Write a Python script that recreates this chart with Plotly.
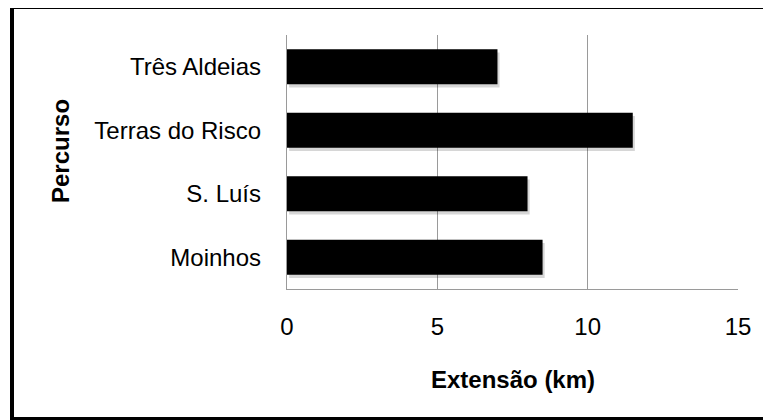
import plotly.graph_objects as go

categories = ["Moinhos", "S. Luís", "Terras do Risco", "Três Aldeias"]
values = [8.5, 8.0, 11.5, 7.0]
x_ticks = [0, 5, 10, 15]

# the page body adds an 8px margin; work in screen pixels and compensate
OFF = 8
W, H = 771 - OFF, 420 - OFF
X0, X1, Y0, Y1 = 287 - OFF, 738 - OFF, 35 - OFF, 289 - OFF   # plot area in figure px
ML, MR, MT, MB = X0, W - X1, Y0, H - Y1
pw = X1 - X0
ph = Y1 - Y0

def px_x(x):
    return (x - OFF - ML) / pw

def px_y(y):
    return (H - MB - (y - OFF)) / ph

FONT = "Liberation Sans, Arial, sans-serif"
FS = 24
BAR_W = 0.55

fig = go.Figure()
# soft drop shadow
fig.add_trace(go.Bar(
    y=categories, x=values, orientation="h",
    base=0.07,
    marker=dict(color="rgba(0,0,0,0.16)", line=dict(width=0)),
    width=BAR_W, offset=-BAR_W / 2 - 0.05,
    hoverinfo="skip",
))
fig.add_trace(go.Bar(
    y=categories, x=values, orientation="h",
    marker=dict(color="#000000", line=dict(width=0)),
    width=BAR_W, offset=-BAR_W / 2,
))

fig.update_layout(
    width=W, height=H,
    barmode="overlay",
    margin=dict(l=ML, r=MR, t=MT, b=MB, autoexpand=False),
    paper_bgcolor="white", plot_bgcolor="white",
    showlegend=False,
    font=dict(family=FONT, size=FS, color="#000000"),
    xaxis=dict(
        range=[0, 15], tickvals=x_ticks, ticktext=[str(v) for v in x_ticks],
        showgrid=True, gridcolor="#9a9a9a", gridwidth=1.3,
        zeroline=False, showline=True, linecolor="#9a9a9a", linewidth=1.3,
        ticks="outside", ticklen=0, ticklabelstandoff=16,
        tickfont=dict(family=FONT, size=FS, color="#000000"),
        fixedrange=True,
    ),
    yaxis=dict(
        categoryorder="array", categoryarray=categories,
        showgrid=False, zeroline=False, showline=True,
        linecolor="#9a9a9a", linewidth=1.3,
        ticks="outside", ticklen=0, ticklabelstandoff=20,
        tickfont=dict(family=FONT, size=FS, color="#000000"),
        fixedrange=True,
    ),
    annotations=[
        dict(text="<b>Extensão (km)</b>", xref="paper", yref="paper",
             x=px_x(512.5), y=px_y(379), showarrow=False,
             xanchor="center", yanchor="middle",
             font=dict(family=FONT, size=FS, color="#000000")),
        dict(text="<b>Percurso</b>", xref="paper", yref="paper",
             x=px_x(60), y=px_y(151), showarrow=False, textangle=-90,
             xanchor="center", yanchor="middle",
             font=dict(family=FONT, size=FS, color="#000000")),
    ],
    shapes=[
        dict(type="line", xref="paper", yref="paper",
             x0=px_x(12), x1=px_x(12), y0=px_y(6), y1=px_y(425),
             line=dict(color="#000000", width=4)),
        dict(type="line", xref="paper", yref="paper",
             x0=px_x(10), x1=px_x(780), y0=px_y(7.5), y1=px_y(7.5),
             line=dict(color="#000000", width=3)),
        dict(type="line", xref="paper", yref="paper",
             x0=px_x(10), x1=px_x(780), y0=px_y(418.5), y1=px_y(418.5),
             line=dict(color="#000000", width=3)),
    ],
)

fig.write_html("out.html")
